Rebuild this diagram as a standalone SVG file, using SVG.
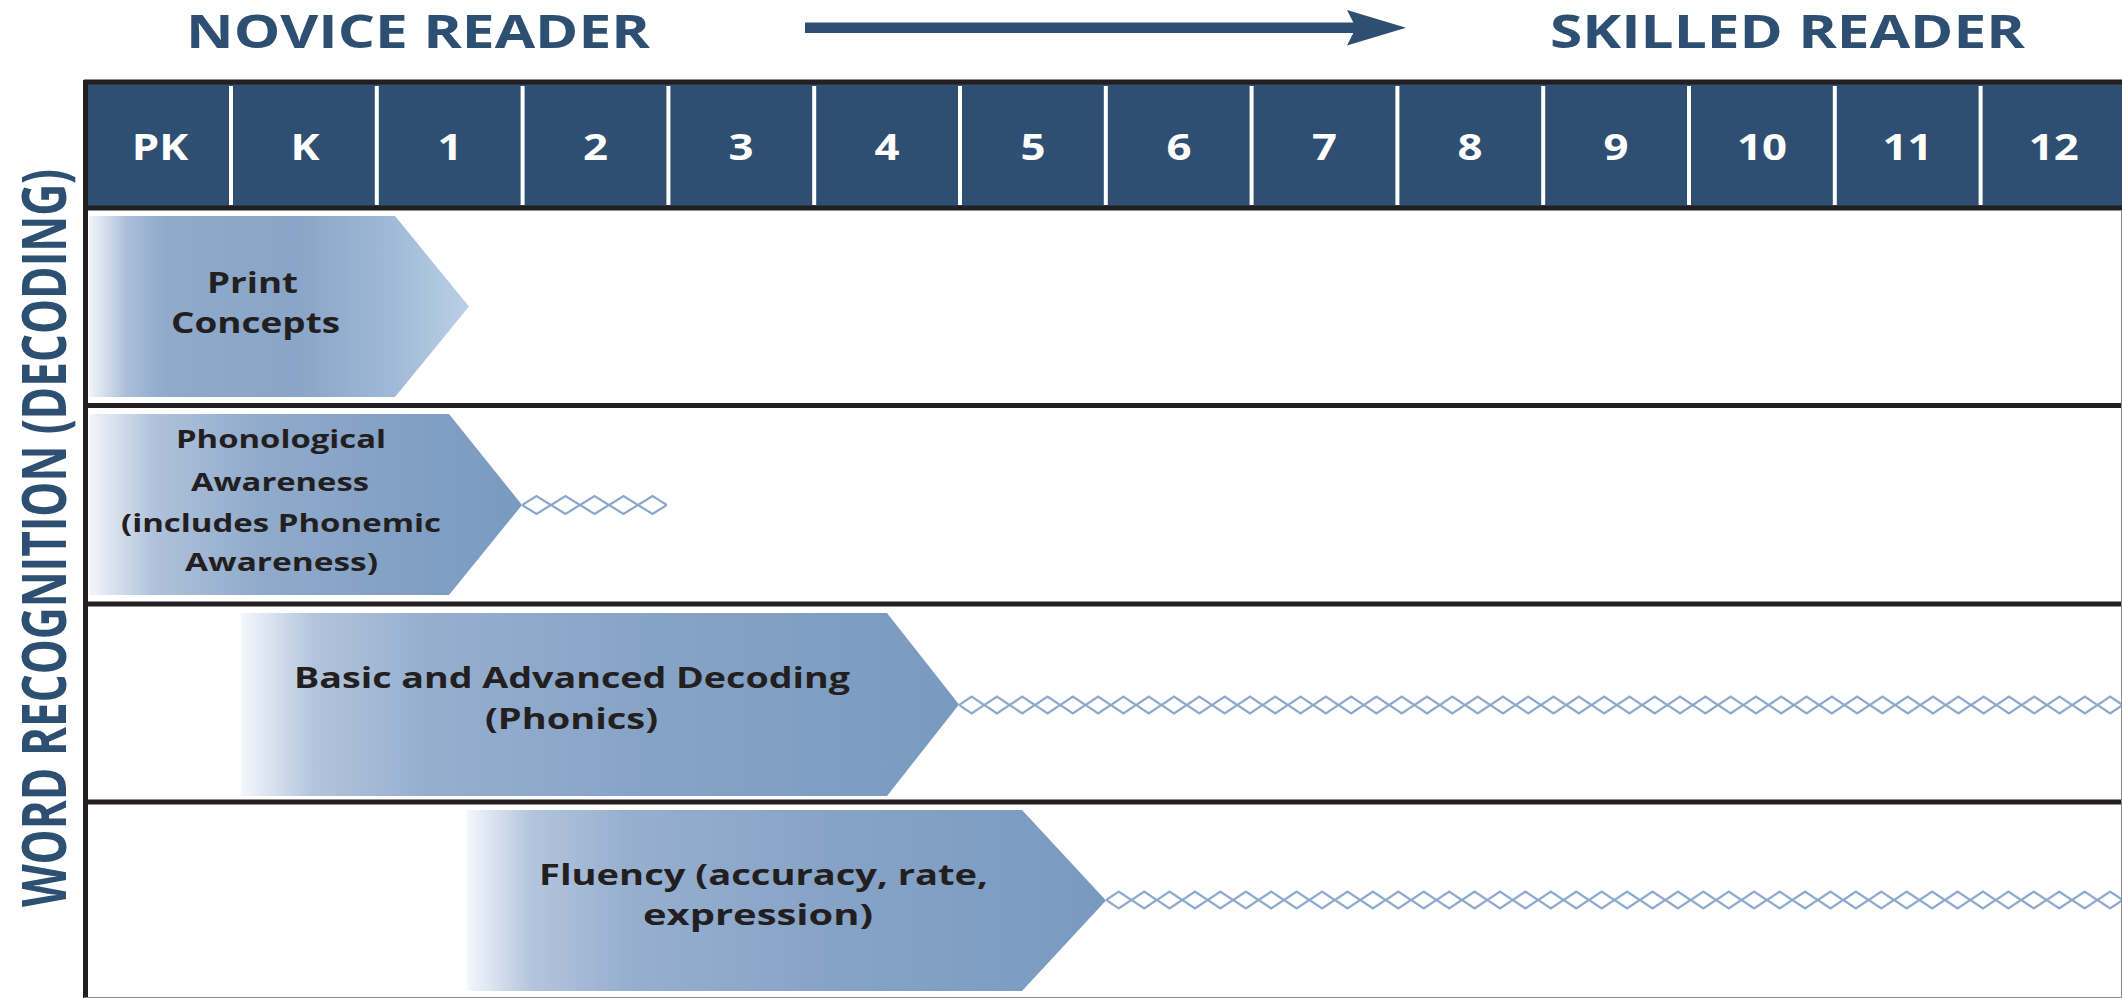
<svg xmlns="http://www.w3.org/2000/svg" width="2122" height="998" viewBox="0 0 2122 998">
  <style>
    .ttl { font-family: "Open Sans", "Liberation Sans", sans-serif; font-weight: 700; fill: #2d4f72; }
    .grade { font-family: "Open Sans", "Liberation Sans", sans-serif; font-weight: 700; fill: #ffffff; font-size: 35px; text-anchor: middle; }
    .lbl { font-family: "Open Sans", "Liberation Sans", sans-serif; font-weight: 700; fill: #231f20; }
    .rule { stroke: #231f20; stroke-width: 5; }
    .sep { stroke: #ffffff; stroke-width: 4; }
    .dia { fill: none; stroke: #8aa7cb; stroke-width: 2.2; }
  </style>
  <defs>
    <linearGradient id="g1" x1="0" y1="0" x2="1" y2="0">
      <stop offset="0" stop-color="#f2f5fa"/>
      <stop offset="0.1" stop-color="#aabed9"/>
      <stop offset="0.2" stop-color="#8faacb"/>
      <stop offset="0.55" stop-color="#89a5c7"/>
      <stop offset="0.8" stop-color="#a1b9d7"/>
      <stop offset="1" stop-color="#bad0e6"/>
    </linearGradient>
    <linearGradient id="g2" x1="0" y1="0" x2="1" y2="0">
      <stop offset="0" stop-color="#f2f5fa"/>
      <stop offset="0.15" stop-color="#afc2db"/>
      <stop offset="0.4" stop-color="#90aacb"/>
      <stop offset="0.7" stop-color="#83a1c5"/>
      <stop offset="1" stop-color="#799ac0"/>
    </linearGradient>
    <linearGradient id="g3" x1="0" y1="0" x2="1" y2="0">
      <stop offset="0" stop-color="#f4f7fb"/>
      <stop offset="0.1" stop-color="#b3c5dd"/>
      <stop offset="0.25" stop-color="#97afcf"/>
      <stop offset="0.55" stop-color="#87a4c7"/>
      <stop offset="1" stop-color="#799ac0"/>
    </linearGradient>
    <pattern id="p2" x="522" y="493" width="29" height="24" patternUnits="userSpaceOnUse">
      <path class="dia" d="M0,12 L14.5,3 L29,12 L14.5,21 Z"/>
    </pattern>
    <pattern id="p3" x="959" y="693" width="25.3" height="24" patternUnits="userSpaceOnUse">
      <path class="dia" d="M0,12 L12.65,3.5 L25.3,12 L12.65,20.5 Z"/>
    </pattern>
    <pattern id="p4" x="1106" y="888" width="25.42" height="24" patternUnits="userSpaceOnUse">
      <path class="dia" d="M0,12 L12.71,3.5 L25.42,12 L12.71,20.5 Z"/>
    </pattern>
  </defs>

  <rect x="0" y="0" width="2122" height="998" fill="#ffffff"/>

  <g id="title-novice">
    <text class="ttl" x="186" y="48" font-size="46" textLength="464" lengthAdjust="spacingAndGlyphs">NOVICE READER</text>
  </g>
  <g id="title-skilled">
    <text class="ttl" x="1550" y="48" font-size="46" textLength="475" lengthAdjust="spacingAndGlyphs">SKILLED READER</text>
  </g>
  <g id="axis-label">
    <text class="ttl" transform="translate(66,907) rotate(-90) scale(1,1.35)" x="0" y="0" font-size="45" textLength="738" lengthAdjust="spacingAndGlyphs">WORD RECOGNITION (DECODING)</text>
  </g>

  <g id="header">
    <rect x="86" y="84" width="2036" height="122" fill="#2e4f72"/>
    <line class="sep" x1="231" y1="86" x2="231" y2="205"/>
    <line class="sep" x1="376.8" y1="86" x2="376.8" y2="205"/>
    <line class="sep" x1="522.6" y1="86" x2="522.6" y2="205"/>
    <line class="sep" x1="668.4" y1="86" x2="668.4" y2="205"/>
    <line class="sep" x1="814.2" y1="86" x2="814.2" y2="205"/>
    <line class="sep" x1="960" y1="86" x2="960" y2="205"/>
    <line class="sep" x1="1105.8" y1="86" x2="1105.8" y2="205"/>
    <line class="sep" x1="1251.6" y1="86" x2="1251.6" y2="205"/>
    <line class="sep" x1="1397.4" y1="86" x2="1397.4" y2="205"/>
    <line class="sep" x1="1543.2" y1="86" x2="1543.2" y2="205"/>
    <line class="sep" x1="1689" y1="86" x2="1689" y2="205"/>
    <line class="sep" x1="1834.8" y1="86" x2="1834.8" y2="205"/>
    <line class="sep" x1="1980.6" y1="86" x2="1980.6" y2="205"/>
    <g transform="scale(1.25,1)">
      <text class="grade" x="128" y="160">PK</text>
      <text class="grade" x="244" y="160">K</text>
      <text class="grade" x="360" y="160">1</text>
      <text class="grade" x="476.4" y="160">2</text>
      <text class="grade" x="592.8" y="160">3</text>
      <text class="grade" x="709.6" y="160">4</text>
      <text class="grade" x="826.4" y="160">5</text>
      <text class="grade" x="943.2" y="160">6</text>
      <text class="grade" x="1059.6" y="160">7</text>
      <text class="grade" x="1176" y="160">8</text>
      <text class="grade" x="1292.8" y="160">9</text>
      <text class="grade" x="1409.6" y="160">10</text>
      <text class="grade" x="1526" y="160">11</text>
      <text class="grade" x="1643" y="160">12</text>
    </g>
  </g>

  <g id="frame">
    <line class="rule" x1="84" y1="82" x2="2122" y2="82" stroke-width="4"/>
    <line class="rule" x1="84" y1="208" x2="2122" y2="208"/>
    <line class="rule" x1="84" y1="405.5" x2="2122" y2="405.5"/>
    <line class="rule" x1="84" y1="604" x2="2122" y2="604"/>
    <line class="rule" x1="84" y1="802" x2="2122" y2="802"/>
    <line class="rule" x1="85.5" y1="80" x2="85.5" y2="998" stroke-width="4"/>
    <line x1="2121.5" y1="210" x2="2121.5" y2="998" stroke="#8a8a8a" stroke-width="1"/>
    <line x1="84" y1="997.5" x2="2122" y2="997.5" stroke="#8a8a8a" stroke-width="1"/>
  </g>

  <g id="print-concepts">
    <polygon points="89,216 395,216 469,306.5 395,397 89,397" fill="url(#g1)"/>
    <text class="lbl" x="207" y="293" font-size="29" textLength="91" lengthAdjust="spacingAndGlyphs">Print</text>
    <text class="lbl" x="171" y="333" font-size="29" textLength="169" lengthAdjust="spacingAndGlyphs">Concepts</text>
  </g>

  <g id="phonological-awareness">
    <polygon points="89,414 449,414 522,505 449,595 89,595" fill="url(#g2)"/>
    <text class="lbl" x="176" y="448" font-size="25" textLength="210" lengthAdjust="spacingAndGlyphs">Phonological</text>
    <text class="lbl" x="191" y="491" font-size="25" textLength="178" lengthAdjust="spacingAndGlyphs">Awareness</text>
    <text class="lbl" x="121" y="532" font-size="25" textLength="320" lengthAdjust="spacingAndGlyphs">(includes Phonemic</text>
    <text class="lbl" x="185" y="571" font-size="25" textLength="193" lengthAdjust="spacingAndGlyphs">Awareness)</text>
  </g>

  <g id="decoding">
    <polygon points="241,613 887,613 959,704.5 887,796 241,796" fill="url(#g3)"/>
    <text class="lbl" x="294" y="688" font-size="28" textLength="556" lengthAdjust="spacingAndGlyphs">Basic and Advanced Decoding</text>
    <text class="lbl" x="485" y="729" font-size="28" textLength="173" lengthAdjust="spacingAndGlyphs">(Phonics)</text>
  </g>

  <g id="fluency">
    <polygon points="467,810 1022,810 1106,900.5 1022,991 467,991" fill="url(#g3)"/>
    <text class="lbl" x="539" y="885" font-size="28" textLength="449" lengthAdjust="spacingAndGlyphs">Fluency (accuracy, rate,</text>
    <text class="lbl" x="643" y="925" font-size="28" textLength="230" lengthAdjust="spacingAndGlyphs">expression)</text>
  </g>

  <g id="connectors">
    <rect x="805" y="22.5" width="552" height="10.5" fill="#2d4f72"/>
    <polygon points="1347,10 1406,27.75 1347,45.5 1356,27.75" fill="#2d4f72"/>
    <rect x="522" y="493" width="145" height="24" fill="url(#p2)"/>
    <rect x="959" y="693" width="1162" height="24" fill="url(#p3)"/>
    <rect x="1106" y="888" width="1015" height="24" fill="url(#p4)"/>
  </g>
</svg>
